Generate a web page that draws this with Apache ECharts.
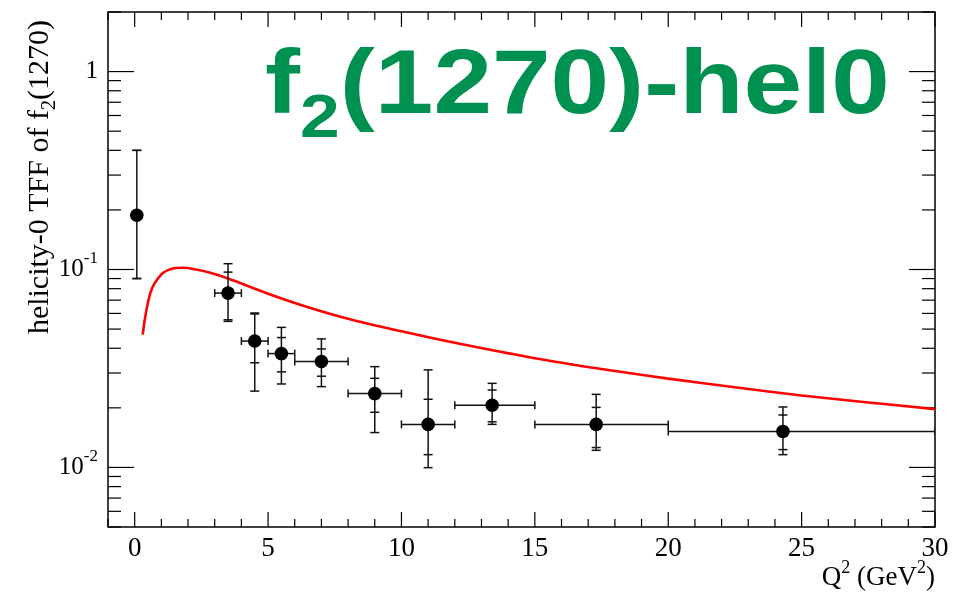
<!DOCTYPE html>
<html>
<head>
<meta charset="utf-8">
<script src="https://cdn.jsdelivr.net/npm/echarts@6/dist/echarts.min.js"></script>
<style>
html, body { margin: 0; padding: 0; background: #fff; }
#chart { width: 965px; height: 594px; }
</style>
</head>
<body>
<div id="chart"></div>
<script>
// measured points (Q2 bins), central value + stat / total errors
var q2      = [0.08, 3.5, 4.5, 5.5, 7.0, 9.0, 11.0, 13.4, 17.3, 24.3];
var q2Lo    = [0.08, 3.0, 4.0, 5.0, 6.0, 8.0, 10.0, 12.0, 15.0, 20.0];
var q2Hi    = [0.08, 4.0, 5.0, 6.0, 8.0, 10.0, 12.0, 15.0, 20.0, 30.0];
var tff     = [0.188, 0.076, 0.0435, 0.0376, 0.0343, 0.0236, 0.0165, 0.0206, 0.0165, 0.0152];
var totHi   = [0.40, 0.107, 0.0603, 0.0510, 0.0446, 0.0323, 0.0311, 0.0266, 0.0234, 0.0202];
var statHi  = [0.40, 0.097, 0.0596, 0.0453, 0.0397, 0.0282, 0.0221, 0.0246, 0.0201, 0.0184];
var statLo  = [0.090, 0.0557, 0.0338, 0.0304, 0.0289, 0.0190, 0.0116, 0.0170, 0.0126, 0.0123];
var totLo   = [0.090, 0.0547, 0.0243, 0.0264, 0.0256, 0.0150, 0.00997, 0.0165, 0.0122, 0.0116];

// theory curve (red)
var curveX  = [0.3, 0.6, 1.0, 1.4, 1.8, 2.3, 2.8, 3.5, 5.0, 6.5, 8.0, 10, 12, 15, 17.5, 20, 22.5, 25, 27.5, 30];
var curveY  = [0.0469, 0.0770, 0.0944, 0.1008, 0.1020, 0.1000, 0.0965, 0.0900, 0.0755, 0.0645, 0.0564,
               0.0487, 0.0426, 0.0356, 0.0314, 0.0281, 0.0254, 0.0231, 0.0213, 0.0197];

// axis ticks
var xLabels    = [0, 5, 10, 15, 20, 25, 30];
var xMinorStep = [-1, 0, 1, 2, 3, 4, 5, 6, 7, 8, 9, 10, 11, 12, 13, 14, 15, 16, 17, 18, 19, 20,
                  21, 22, 23, 24, 25, 26, 27, 28, 29, 30];
var yMajor     = [0.01, 0.1, 1];
var yMinor     = [0.005, 0.006, 0.007, 0.008, 0.009, 0.02, 0.03, 0.04, 0.05, 0.06, 0.07, 0.08, 0.09,
                  0.2, 0.3, 0.4, 0.5, 0.6, 0.7, 0.8, 0.9, 2];

var serif = "'Liberation Serif', 'DejaVu Serif', serif";
var sansB = "'Liberation Sans', Arial, sans-serif";

var chart = echarts.init(document.getElementById('chart'));

var pointData = q2.map(function(x, i){
    return [x, tff[i], q2Lo[i], q2Hi[i], totLo[i], statLo[i], statHi[i], totHi[i]];
});

var xTickData = xMinorStep.map(function(v){ return [v, 0.1, xLabels.indexOf(v) >= 0 ? 1 : 0]; });
var yTickData = yMinor.map(function(v){ return [0, v, 0]; })
    .concat(yMajor.map(function(v){ return [0, v, 1]; }));

function renderErrPoint(params, api){
    var x = api.value(0), y = api.value(1);
    var c = api.coord([x, y]);
    var pl = api.coord([api.value(2), y]), ph = api.coord([api.value(3), y]);
    var yTl = api.coord([x, api.value(4)])[1], ySl = api.coord([x, api.value(5)])[1];
    var ySh = api.coord([x, api.value(6)])[1], yTh = api.coord([x, api.value(7)])[1];
    var st = {stroke: '#111', lineWidth: 1.5};
    var cap = 4.5, children = [];
    if (ph[0] - pl[0] > 1) {
        children.push({type: 'line', shape: {x1: pl[0], y1: c[1], x2: ph[0], y2: c[1]}, style: st});
        children.push({type: 'line', shape: {x1: pl[0], y1: c[1] - 4, x2: pl[0], y2: c[1] + 4}, style: st});
        children.push({type: 'line', shape: {x1: ph[0], y1: c[1] - 4, x2: ph[0], y2: c[1] + 4}, style: st});
    }
    children.push({type: 'line', shape: {x1: c[0], y1: yTl, x2: c[0], y2: yTh}, style: st});
    [yTl, ySl, ySh, yTh].forEach(function(yy){
        children.push({type: 'line', shape: {x1: c[0] - cap, y1: yy, x2: c[0] + cap, y2: yy}, style: st});
    });
    children.push({type: 'circle', shape: {cx: c[0], cy: c[1], r: 6.8}, style: {fill: '#000'}});
    return {type: 'group', children: children};
}

function renderXTick(params, api){
    var cs = params.coordSys;
    var px = api.coord([api.value(0), 0.1])[0];
    var len = api.value(2) ? 15 : 8;
    var st = {stroke: '#000', lineWidth: 1.2};
    return {type: 'group', children: [
        {type: 'line', shape: {x1: px, y1: cs.y + cs.height, x2: px, y2: cs.y + cs.height - len}, style: st},
        {type: 'line', shape: {x1: px, y1: cs.y, x2: px, y2: cs.y + len}, style: st}
    ]};
}

function renderYTick(params, api){
    var cs = params.coordSys;
    var py = api.coord([0, api.value(1)])[1];
    var len = api.value(2) ? 26 : 13;
    var st = {stroke: '#000', lineWidth: 1.2};
    return {type: 'group', children: [
        {type: 'line', shape: {x1: cs.x, y1: py, x2: cs.x + len, y2: py}, style: st},
        {type: 'line', shape: {x1: cs.x + cs.width, y1: py, x2: cs.x + cs.width - len, y2: py}, style: st}
    ]};
}

var option = {
    backgroundColor: '#fff',
    animation: false,
    grid: {left: 108, right: 30, top: 12, bottom: 67, show: true,
           borderColor: '#000', borderWidth: 1.5, backgroundColor: 'transparent'},
    xAxis: {
        type: 'value', min: -1, max: 30,
        axisLine: {show: false}, axisTick: {show: false}, splitLine: {show: false},
        axisLabel: {customValues: xLabels, color: '#000', fontFamily: serif, fontSize: 27, margin: 8}
    },
    yAxis: {
        type: 'log', logBase: 10, min: 0.005, max: 2,
        axisLine: {show: false}, axisTick: {show: false}, splitLine: {show: false},
        axisLabel: {
            showMinLabel: false, showMaxLabel: false,
            color: '#000', fontFamily: serif, fontSize: 25, margin: 10,
            formatter: function(v){
                if (Math.abs(v - 1) < 1e-6) return '{m|1}';
                if (Math.abs(v - 0.1) < 1e-7) return '{m|10}{s|-1}';
                if (Math.abs(v - 0.01) < 1e-8) return '{m|10}{s|-2}';
                return '';
            },
            rich: {
                m: {fontFamily: serif, fontSize: 25, lineHeight: 25, color: '#000'},
                s: {fontFamily: serif, fontSize: 17, lineHeight: 17, color: '#000', padding: [0, 0, 22, 0]}
            }
        }
    },
    graphic: [
        {
            type: 'text', x: 265, y: 43, scaleX: 1.17,
            style: {
                text: '{a|f}{b|2}{a|(1270)-hel0}',
                textAlign: 'left', textVerticalAlign: 'top',
                rich: {
                    a: {fontFamily: sansB, fontWeight: 'bold', fontSize: 90, lineHeight: 90, fill: '#00904f'},
                    b: {fontFamily: sansB, fontWeight: 'bold', fontSize: 61, lineHeight: 61, fill: '#00904f',
                        padding: [64, 0, 0, 0]}
                }
            }
        },
        {
            type: 'text', x: 40, y: 20, rotation: Math.PI / 2,
            style: {
                text: '{a|helicity-0 TFF of f}{b|2}{a|(1270)}',
                textAlign: 'right', textVerticalAlign: 'middle',
                rich: {
                    a: {fontFamily: serif, fontSize: 30, lineHeight: 30, fill: '#000'},
                    b: {fontFamily: serif, fontSize: 20, lineHeight: 20, fill: '#000', padding: [20, 0, 0, 0]}
                }
            }
        },
        {
            type: 'text', x: 935, y: 578,
            style: {
                text: '{a|Q}{b|2}{a| (GeV}{b|2}{a|)}',
                textAlign: 'right', textVerticalAlign: 'middle',
                rich: {
                    a: {fontFamily: serif, fontSize: 27, lineHeight: 27, fill: '#000'},
                    b: {fontFamily: serif, fontSize: 18, lineHeight: 18, fill: '#000', padding: [0, 0, 20, 0]}
                }
            }
        }
    ],
    series: [
        {
            type: 'custom', name: 'xticks', coordinateSystem: 'cartesian2d', silent: true, z: 1,
            renderItem: renderXTick, data: xTickData
        },
        {
            type: 'custom', name: 'yticks', coordinateSystem: 'cartesian2d', silent: true, z: 1,
            renderItem: renderYTick, data: yTickData
        },
        {
            type: 'line', name: 'model', showSymbol: false, smooth: 0.35,
            lineStyle: {color: '#ff0000', width: 2.6}, z: 3,
            data: curveX.map(function(x, i){ return [x, curveY[i]]; })
        },
        {
            type: 'custom', name: 'data', coordinateSystem: 'cartesian2d', z: 4, clip: true,
            renderItem: renderErrPoint, data: pointData
        }
    ]
};

chart.setOption(option);
</script>
</body>
</html>
